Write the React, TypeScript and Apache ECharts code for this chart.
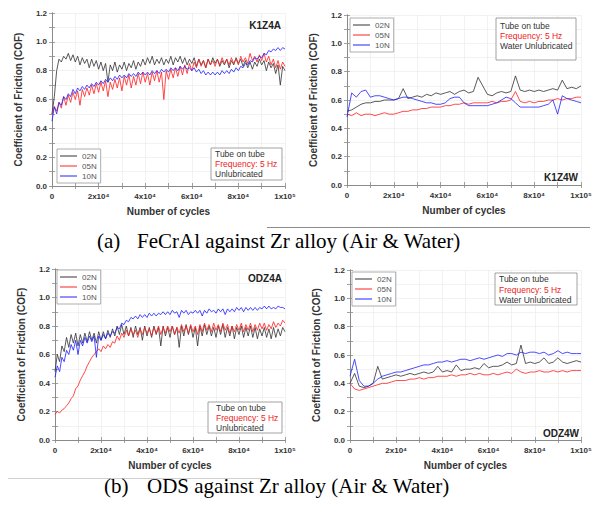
import React, { useEffect, useRef } from "react";
import * as echarts from "echarts";

// ---------------- DATA ----------------
const LOADS = ["02N", "05N", "10N"];
const AIR_STEP = 1000; // cycles between samples (air tests)
const WATER_STEP = 2000; // cycles between samples (water tests)

// (a) FeCrAl vs Zr, air
const K1Z4A_02N = [0.50, 0.62, 0.80, 0.88, 0.86, 0.90, 0.88, 0.92, 0.87, 0.91,
  0.86, 0.90, 0.84, 0.89, 0.85, 0.88, 0.82, 0.88, 0.83, 0.87,
  0.81, 0.86, 0.80, 0.85, 0.72, 0.84, 0.80, 0.86, 0.79, 0.84,
  0.81, 0.86, 0.80, 0.85, 0.82, 0.87, 0.81, 0.86, 0.83, 0.88,
  0.84, 0.89, 0.85, 0.90, 0.84, 0.88, 0.85, 0.89, 0.84, 0.88,
  0.85, 0.90, 0.84, 0.89, 0.86, 0.90, 0.85, 0.89, 0.84, 0.88,
  0.85, 0.89, 0.83, 0.88, 0.84, 0.87, 0.82, 0.88, 0.84, 0.89,
  0.85, 0.88, 0.83, 0.87, 0.84, 0.88, 0.82, 0.87, 0.84, 0.89,
  0.85, 0.88, 0.83, 0.87, 0.82, 0.86, 0.81, 0.86, 0.83, 0.88,
  0.84, 0.87, 0.80, 0.86, 0.82, 0.85, 0.78, 0.84, 0.70, 0.83, 0.80];
const K1Z4A_05N = [0.50, 0.55, 0.52, 0.58, 0.54, 0.62, 0.56, 0.63, 0.58, 0.65,
  0.60, 0.66, 0.56, 0.67, 0.62, 0.68, 0.63, 0.70, 0.64, 0.71,
  0.65, 0.72, 0.66, 0.73, 0.62, 0.72, 0.67, 0.74, 0.68, 0.75,
  0.66, 0.76, 0.70, 0.77, 0.68, 0.76, 0.70, 0.78, 0.71, 0.79,
  0.72, 0.78, 0.70, 0.79, 0.73, 0.80, 0.72, 0.79, 0.60, 0.80,
  0.74, 0.81, 0.75, 0.82, 0.76, 0.83, 0.77, 0.84, 0.78, 0.85,
  0.80, 0.86, 0.82, 0.88, 0.83, 0.87, 0.82, 0.88, 0.84, 0.87,
  0.83, 0.88, 0.84, 0.89, 0.85, 0.88, 0.84, 0.89, 0.85, 0.88,
  0.84, 0.90, 0.86, 0.89, 0.85, 0.92, 0.87, 0.90, 0.86, 0.91,
  0.87, 0.92, 0.86, 0.90, 0.84, 0.88, 0.82, 0.87, 0.81, 0.86, 0.83];
const K1Z4A_10N = [0.45, 0.55, 0.50, 0.58, 0.56, 0.62, 0.60, 0.64, 0.62, 0.67,
  0.64, 0.68, 0.66, 0.69, 0.67, 0.70, 0.68, 0.71, 0.69, 0.72,
  0.70, 0.73, 0.71, 0.74, 0.72, 0.75, 0.73, 0.76, 0.74, 0.77,
  0.75, 0.77, 0.75, 0.78, 0.76, 0.78, 0.76, 0.79, 0.77, 0.79,
  0.77, 0.79, 0.77, 0.80, 0.78, 0.80, 0.78, 0.81, 0.79, 0.81,
  0.79, 0.82, 0.80, 0.82, 0.80, 0.83, 0.81, 0.83, 0.81, 0.82,
  0.80, 0.82, 0.79, 0.81, 0.78, 0.80, 0.77, 0.79, 0.77, 0.79,
  0.77, 0.79, 0.77, 0.80, 0.78, 0.80, 0.78, 0.81, 0.79, 0.82,
  0.80, 0.83, 0.82, 0.85, 0.84, 0.87, 0.86, 0.89, 0.88, 0.90,
  0.89, 0.92, 0.91, 0.94, 0.93, 0.95, 0.94, 0.96, 0.94, 0.96, 0.95];

// (a) FeCrAl vs Zr, water
const K1Z4W_02N = [0.52, 0.53, 0.55, 0.57, 0.58, 0.58, 0.59, 0.59, 0.60, 0.60,
  0.60, 0.61, 0.68, 0.61, 0.62, 0.63, 0.62, 0.64, 0.63, 0.65,
  0.64, 0.65, 0.66, 0.64, 0.66, 0.67, 0.65, 0.66, 0.76, 0.70,
  0.64, 0.63, 0.65, 0.66, 0.65, 0.66, 0.77, 0.67, 0.66, 0.67,
  0.66, 0.67, 0.66, 0.67, 0.68, 0.67, 0.74, 0.68, 0.69, 0.68, 0.70];
const K1Z4W_05N = [0.50, 0.49, 0.51, 0.49, 0.50, 0.50, 0.49, 0.50, 0.51, 0.50,
  0.50, 0.51, 0.52, 0.52, 0.53, 0.53, 0.54, 0.54, 0.55, 0.55,
  0.55, 0.56, 0.56, 0.57, 0.57, 0.58, 0.57, 0.58, 0.58, 0.58,
  0.58, 0.59, 0.58, 0.59, 0.59, 0.60, 0.66, 0.59, 0.58, 0.59,
  0.58, 0.59, 0.59, 0.60, 0.60, 0.61, 0.60, 0.61, 0.61, 0.62, 0.62];
const K1Z4W_10N = [0.48, 0.65, 0.62, 0.66, 0.67, 0.62, 0.63, 0.63, 0.62, 0.61,
  0.60, 0.61, 0.62, 0.62, 0.61, 0.60, 0.59, 0.58, 0.58, 0.57,
  0.57, 0.58, 0.61, 0.62, 0.62, 0.58, 0.56, 0.56, 0.56, 0.56,
  0.56, 0.57, 0.58, 0.60, 0.62, 0.61, 0.58, 0.55, 0.55, 0.55,
  0.55, 0.55, 0.56, 0.57, 0.60, 0.50, 0.63, 0.61, 0.60, 0.59, 0.58];

// (b) ODS vs Zr, air
const ODZ4A_02N = [0.48, 0.60, 0.55, 0.66, 0.62, 0.72, 0.65, 0.74, 0.68, 0.75,
  0.66, 0.74, 0.68, 0.75, 0.69, 0.76, 0.70, 0.75, 0.68, 0.76,
  0.70, 0.76, 0.71, 0.77, 0.72, 0.78, 0.73, 0.80, 0.74, 0.81,
  0.74, 0.80, 0.73, 0.79, 0.72, 0.80, 0.74, 0.79, 0.70, 0.80,
  0.73, 0.79, 0.72, 0.80, 0.74, 0.79, 0.66, 0.80, 0.73, 0.79,
  0.72, 0.80, 0.74, 0.79, 0.65, 0.80, 0.73, 0.81, 0.74, 0.80,
  0.72, 0.79, 0.66, 0.80, 0.73, 0.81, 0.74, 0.80, 0.73, 0.79,
  0.72, 0.80, 0.74, 0.81, 0.72, 0.79, 0.73, 0.80, 0.71, 0.79,
  0.74, 0.80, 0.72, 0.79, 0.73, 0.80, 0.72, 0.79, 0.71, 0.78,
  0.73, 0.79, 0.72, 0.78, 0.71, 0.79, 0.72, 0.78, 0.73, 0.79, 0.76];
const ODZ4A_05N = [0.18, 0.20, 0.19, 0.21, 0.22, 0.24, 0.26, 0.29, 0.31, 0.36,
  0.38, 0.42, 0.45, 0.48, 0.52, 0.55, 0.58, 0.60, 0.62, 0.64,
  0.62, 0.66, 0.64, 0.67, 0.65, 0.69, 0.68, 0.73, 0.70, 0.75,
  0.72, 0.77, 0.73, 0.78, 0.74, 0.77, 0.72, 0.78, 0.74, 0.79,
  0.75, 0.78, 0.73, 0.79, 0.75, 0.80, 0.74, 0.79, 0.75, 0.80,
  0.76, 0.80, 0.74, 0.79, 0.75, 0.81, 0.76, 0.80, 0.75, 0.81,
  0.76, 0.80, 0.74, 0.81, 0.76, 0.82, 0.77, 0.81, 0.76, 0.82,
  0.77, 0.81, 0.76, 0.82, 0.77, 0.81, 0.75, 0.80, 0.76, 0.81,
  0.77, 0.82, 0.76, 0.81, 0.77, 0.82, 0.76, 0.81, 0.77, 0.82,
  0.78, 0.82, 0.77, 0.81, 0.78, 0.83, 0.79, 0.82, 0.80, 0.84, 0.82];
const ODZ4A_10N = [0.44, 0.52, 0.48, 0.58, 0.55, 0.63, 0.60, 0.67, 0.63, 0.70,
  0.60, 0.70, 0.66, 0.72, 0.68, 0.73, 0.69, 0.73, 0.58, 0.73,
  0.70, 0.74, 0.71, 0.75, 0.73, 0.76, 0.75, 0.79, 0.78, 0.82,
  0.81, 0.84, 0.83, 0.86, 0.85, 0.87, 0.85, 0.88, 0.86, 0.88,
  0.86, 0.89, 0.87, 0.89, 0.87, 0.89, 0.88, 0.90, 0.88, 0.90,
  0.88, 0.91, 0.89, 0.90, 0.86, 0.91, 0.89, 0.91, 0.88, 0.90,
  0.89, 0.91, 0.89, 0.91, 0.87, 0.91, 0.89, 0.92, 0.90, 0.91,
  0.89, 0.92, 0.90, 0.92, 0.88, 0.92, 0.90, 0.92, 0.90, 0.93,
  0.91, 0.93, 0.90, 0.93, 0.91, 0.93, 0.91, 0.93, 0.91, 0.93,
  0.92, 0.94, 0.92, 0.94, 0.92, 0.93, 0.92, 0.94, 0.93, 0.93, 0.92];

// (b) ODS vs Zr, water
const ODZ4W_02N = [0.40, 0.47, 0.38, 0.37, 0.38, 0.40, 0.52, 0.43, 0.44, 0.45,
  0.46, 0.45, 0.46, 0.47, 0.46, 0.47, 0.48, 0.47, 0.48, 0.52,
  0.48, 0.49, 0.48, 0.53, 0.49, 0.50, 0.50, 0.51, 0.50, 0.54,
  0.51, 0.52, 0.52, 0.53, 0.55, 0.53, 0.54, 0.67, 0.54, 0.55,
  0.54, 0.55, 0.58, 0.54, 0.55, 0.58, 0.55, 0.54, 0.55, 0.56, 0.55];
const ODZ4W_05N = [0.40, 0.36, 0.35, 0.36, 0.37, 0.38, 0.39, 0.40, 0.40, 0.41,
  0.42, 0.42, 0.42, 0.43, 0.43, 0.44, 0.43, 0.44, 0.44, 0.45,
  0.45, 0.45, 0.46, 0.45, 0.46, 0.46, 0.47, 0.46, 0.47, 0.46,
  0.46, 0.47, 0.46, 0.47, 0.48, 0.47, 0.50, 0.48, 0.47, 0.48,
  0.48, 0.49, 0.48, 0.48, 0.49, 0.48, 0.49, 0.48, 0.49, 0.49, 0.49];
const ODZ4W_10N = [0.45, 0.57, 0.42, 0.38, 0.38, 0.40, 0.43, 0.45, 0.46, 0.47,
  0.48, 0.48, 0.49, 0.50, 0.51, 0.52, 0.53, 0.53, 0.54, 0.55,
  0.55, 0.56, 0.55, 0.56, 0.57, 0.57, 0.56, 0.57, 0.58, 0.57,
  0.58, 0.59, 0.60, 0.59, 0.61, 0.61, 0.60, 0.62, 0.61, 0.62,
  0.62, 0.61, 0.62, 0.60, 0.61, 0.63, 0.61, 0.62, 0.61, 0.61, 0.61];

const PANEL_LABELS = ["K1Z4A", "K1Z4W", "ODZ4A", "ODZ4W"];
const PANEL_STEPS = [AIR_STEP, WATER_STEP, AIR_STEP, WATER_STEP];
const PANEL_SERIES = [
  [K1Z4A_02N, K1Z4A_05N, K1Z4A_10N],
  [K1Z4W_02N, K1Z4W_05N, K1Z4W_10N],
  [ODZ4A_02N, ODZ4A_05N, ODZ4A_10N],
  [ODZ4W_02N, ODZ4W_05N, ODZ4W_10N],
];
const BOX_LINES = [
  ["Tube on tube", "Frequency: 5 Hz", "Unlubricated"],
  ["Tube on tube", "Frequency: 5 Hz", "Water Unlubricated"],
  ["Tube on tube", "Frequency: 5 Hz", "Unlubricated"],
  ["Tube on tube", "Frequency: 5 Hz", "Water Unlubricated"],
];
const CAPTIONS = [
  ["(a)", "FeCrAl against Zr alloy (Air & Water)"],
  ["(b)", "ODS against Zr alloy (Air & Water)"],
];
const X_TITLE = "Number of cycles";
const Y_TITLE = "Coefficient of Friction (COF)";

// ---------------- LAYOUT / STYLE ----------------
const SANS = "'Liberation Sans', Arial, Helvetica, sans-serif";
const SERIF = "'Liberation Serif', 'Times New Roman', serif";
const LINE_COLORS = ["#333333", "#ff2020", "#2020ff"];
const AXIS_COLOR = "#8a8a8a";

const GRIDS = [
  { left: 52, top: 13, width: 233, height: 173 },
  { left: 347, top: 15, width: 234, height: 170 },
  { left: 55, top: 269, width: 230, height: 171 },
  { left: 350, top: 270, width: 231, height: 170 },
];
const LEGEND_POS = [
  { left: 57, top: 149 },
  { left: 350, top: 18 },
  { left: 57, top: 270 },
  { left: 352, top: 272 },
];
const BOX_POS = [
  { x: 211, y: 148, w: 71, h: 32, tx: 215, ty: [154, 164, 174] },
  { x: 496, y: 18, w: 80, h: 42, tx: 500, ty: [26, 36, 46] },
  { x: 208, y: 402, w: 74, h: 31, tx: 216, ty: [408, 418, 428] },
  { x: 495, y: 273, w: 82, h: 32, tx: 499, ty: [279, 290, 300] },
];
const LABEL_POS = [
  { x: 281, y: 25 },
  { x: 578, y: 177 },
  { x: 282, y: 278 },
  { x: 579, y: 433 },
];

const fmtX = (v: number) => {
  if (v === 0) return "0";
  if (v === 100000) return "1x10\u2075";
  if (v % 20000 === 0) return `${v / 10000}x10\u2074`;
  return "";
};
const fmtY = (v: number) => (Math.round(v * 10) % 2 === 0 ? v.toFixed(1) : "");

function buildOption() {
  const xAxis: any[] = [];
  const yAxis: any[] = [];
  const series: any[] = [];
  const legend: any[] = [];
  const graphic: any[] = [];

  GRIDS.forEach((_, i) => {
    const common = {
      type: "value",
      gridIndex: i,
      axisLine: { show: true, lineStyle: { color: AXIS_COLOR, width: 1 } },
      axisTick: { show: true, inside: true, length: 3, lineStyle: { color: AXIS_COLOR, width: 0.8 } },
    };
    xAxis.push({
      ...common,
      position: "bottom",
      min: 0,
      max: 100000,
      interval: 10000,
      splitLine: { show: true, lineStyle: { color: "#ececec", width: 0.7 } },
      axisLabel: {
        formatter: fmtX,
        fontSize: 8,
        fontWeight: "bold",
        color: "#333",
        fontFamily: SANS,
        margin: 6,
        hideOverlap: false,
        showMaxLabel: true,
        showMinLabel: true,
      },
      name: X_TITLE,
      nameLocation: "middle",
      nameGap: 20,
      nameTextStyle: { fontSize: 10, fontWeight: "bold", color: "#333", fontFamily: SANS },
    });
    yAxis.push({
      ...common,
      position: "left",
      min: 0,
      max: 1.2,
      interval: 0.1,
      splitLine: { show: true, lineStyle: { color: "#ececec", width: 0.7 } },
      axisLabel: {
        formatter: fmtY,
        fontSize: 8,
        fontWeight: "bold",
        color: "#333",
        fontFamily: SANS,
        margin: 5,
        hideOverlap: false,
        showMaxLabel: true,
        showMinLabel: true,
      },
      name: Y_TITLE,
      nameLocation: "middle",
      nameGap: 29,
      nameTextStyle: { fontSize: 10, fontWeight: "bold", color: "#333", fontFamily: SANS },
    });
  });
  GRIDS.forEach((_, i) => {
    xAxis.push({
      type: "value",
      gridIndex: i,
      position: "top",
      min: 0,
      max: 100000,
      interval: 10000,
      axisLine: { show: true, lineStyle: { color: AXIS_COLOR, width: 1 } },
      axisTick: { show: true, inside: true, length: 3, lineStyle: { color: AXIS_COLOR, width: 0.8 } },
      axisLabel: { show: false },
      splitLine: { show: false },
    });
    yAxis.push({
      type: "value",
      gridIndex: i,
      position: "right",
      min: 0,
      max: 1.2,
      interval: 0.1,
      axisLine: { show: true, lineStyle: { color: AXIS_COLOR, width: 1 } },
      axisTick: { show: true, inside: true, length: 3, lineStyle: { color: AXIS_COLOR, width: 0.8 } },
      axisLabel: { show: false },
      splitLine: { show: false },
    });
  });

  PANEL_SERIES.forEach((group, p) => {
    group.forEach((vals, k) => {
      series.push({
        type: "line",
        name: LOADS[k],
        xAxisIndex: p,
        yAxisIndex: p,
        data: vals.map((v, j) => [j * PANEL_STEPS[p], v]),
        symbol: "none",
        showSymbol: false,
        silent: true,
        color: LINE_COLORS[k],
        lineStyle: { color: LINE_COLORS[k], width: 0.9, opacity: 0.9 },
      });
    });
  });

  LEGEND_POS.forEach((pos) => {
    legend.push({
      data: LOADS.map((n) => ({ name: n, icon: "rect" })),
      left: pos.left,
      top: pos.top,
      orient: "vertical",
      itemWidth: 17,
      itemHeight: 1,
      itemGap: 0,
      padding: [2, 4, 2, 3],
      borderColor: "#9a9a9a",
      borderWidth: 0.8,
      backgroundColor: "#fff",
      selectedMode: false,
      textStyle: { fontSize: 8, color: "#555", fontFamily: SANS, lineHeight: 10 },
    });
  });

  BOX_POS.forEach((b, i) => {
    graphic.push({
      type: "rect",
      shape: { x: b.x, y: b.y, width: b.w, height: b.h },
      style: { fill: "#fff", stroke: "#8a8a8a", lineWidth: 0.8 },
      z: 100,
    });
    BOX_LINES[i].forEach((t, k) => {
      graphic.push({
        type: "text",
        x: b.tx,
        y: b.ty[k],
        z: 101,
        style: {
          text: t,
          fontSize: 8.5,
          fontFamily: SANS,
          fill: k === 1 ? "#ee1c1c" : "#333",
          verticalAlign: "middle",
          align: "left",
        },
      });
    });
  });

  LABEL_POS.forEach((p, i) => {
    graphic.push({
      type: "text",
      x: p.x,
      y: p.y,
      z: 101,
      style: {
        text: PANEL_LABELS[i],
        fontSize: 10,
        fontWeight: "bold",
        fontFamily: SANS,
        fill: "#222",
        align: "right",
        verticalAlign: "middle",
      },
    });
  });

  // separator lines
  graphic.push({
    type: "line",
    shape: { x1: 267, y1: 227.5, x2: 590, y2: 227.5 },
    style: { stroke: "#8c8c8c", lineWidth: 1 },
  });
  graphic.push({
    type: "line",
    shape: { x1: 8, y1: 478.5, x2: 267, y2: 478.5 },
    style: { stroke: "#d0d0d0", lineWidth: 1 },
  });

  // captions
  const capY = [241, 486];
  const capX = [[97, 137], [104, 147]];
  CAPTIONS.forEach((c, i) => {
    c.forEach((t, k) => {
      graphic.push({
        type: "text",
        x: capX[i][k],
        y: capY[i],
        style: {
          text: t,
          fontSize: 21,
          fontFamily: SERIF,
          fill: "#000",
          align: "left",
          verticalAlign: "middle",
        },
      });
    });
  });

  return {
    animation: false,
    backgroundColor: "#fff",
    grid: GRIDS.map((g) => ({ ...g, containLabel: false, show: false })),
    xAxis,
    yAxis,
    legend,
    series,
    graphic,
  };
}

export default function App() {
  const ref = useRef<HTMLDivElement>(null);
  useEffect(() => {
    if (!ref.current) return;
    const chart = echarts.init(ref.current, undefined, { renderer: "svg" });
    chart.setOption(buildOption() as any);
    return () => chart.dispose();
  }, []);
  return (
    <div
      ref={ref}
      style={{ position: "absolute", left: 0, top: 0, width: 595, height: 507, background: "#fff" }}
    />
  );
}
